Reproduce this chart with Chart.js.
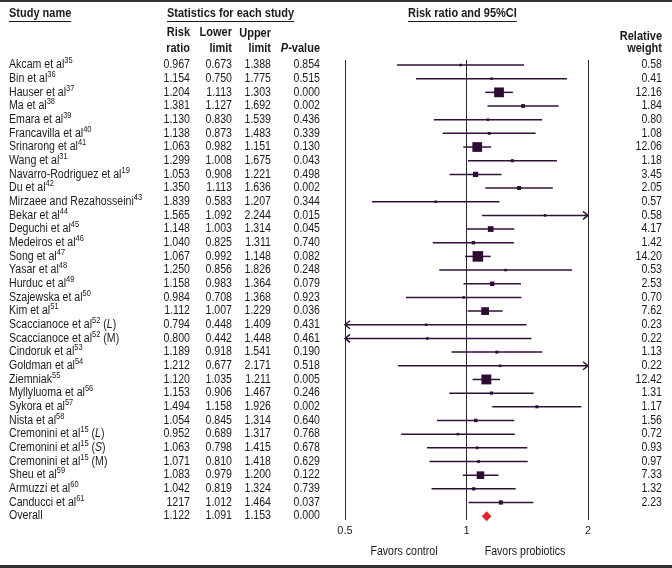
<!DOCTYPE html>
<html>
<head>
<meta charset="utf-8">
<script src="https://cdn.jsdelivr.net/npm/chart.js@4"></script>
<style>
  body { margin: 0; background: #fff; }
  canvas { display: block; }
</style>
</head>
<body>
<canvas id="forest" width="672" height="568"></canvas>
<script>
// study labels, reference numbers and subgroup tags
const studies = [
  'Akcam et al', 'Bin et al', 'Hauser et al', 'Ma et al', 'Emara et al',
  'Francavilla et al', 'Srinarong et al', 'Wang et al', 'Navarro-Rodriguez et al',
  'Du et al', 'Mirzaee and Rezahosseini', 'Bekar et al', 'Deguchi et al',
  'Medeiros et al', 'Song et al', 'Yasar et al', 'Hurduc et al', 'Szajewska et al',
  'Kim et al', 'Scaccianoce et al', 'Scaccianoce et al', 'Cindoruk et al',
  'Goldman et al', 'Ziemniak', 'Myllyluoma et al', 'Sykora et al', 'Nista et al',
  'Cremonini et al', 'Cremonini et al', 'Cremonini et al', 'Sheu et al',
  'Armuzzi et al', 'Canducci et al', 'Overall'
];
const refs = [
  '35', '36', '37', '38', '39', '40', '41', '31', '19', '42', '43', '44', '45',
  '46', '47', '48', '49', '50', '51', '52', '52', '53', '54', '55', '56', '57',
  '58', '15', '15', '15', '59', '60', '61', ''
];
const tags = {19: 'L', 20: 'M', 27: 'L', 28: 'S', 29: 'M'};

const riskRatio = [
  0.967, 1.154, 1.204, 1.381, 1.130, 1.138, 1.063, 1.299, 1.053, 1.350, 0.839,
  1.565, 1.148, 1.040, 1.067, 1.250, 1.158, 0.984, 1.112, 0.794, 0.800, 1.189,
  1.212, 1.120, 1.153, 1.494, 1.054, 0.952, 1.063, 1.071, 1.083, 1.042, 1.217,
  1.122
];
// the table prints two ratios differently from what is plotted
const printedRatio = {10: '1.839', 32: '1217'};
const lowerLimit = [
  0.673, 0.750, 1.113, 1.127, 0.830, 0.873, 0.982, 1.008, 0.908, 1.113, 0.583,
  1.092, 1.003, 0.825, 0.992, 0.856, 0.983, 0.708, 1.007, 0.448, 0.442, 0.918,
  0.677, 1.035, 0.906, 1.158, 0.845, 0.689, 0.798, 0.810, 0.979, 0.819, 1.012,
  1.091
];
const upperLimit = [
  1.388, 1.775, 1.303, 1.692, 1.539, 1.483, 1.151, 1.675, 1.221, 1.636, 1.207,
  2.244, 1.314, 1.311, 1.148, 1.826, 1.364, 1.368, 1.229, 1.409, 1.448, 1.541,
  2.171, 1.211, 1.467, 1.926, 1.314, 1.317, 1.415, 1.418, 1.200, 1.324, 1.464,
  1.153
];
const pValue = [
  0.854, 0.515, 0.000, 0.002, 0.436, 0.339, 0.130, 0.043, 0.498, 0.002, 0.344,
  0.015, 0.045, 0.740, 0.082, 0.248, 0.079, 0.923, 0.036, 0.431, 0.461, 0.190,
  0.518, 0.005, 0.246, 0.002, 0.640, 0.768, 0.678, 0.629, 0.122, 0.739, 0.037,
  0.000
];
const weight = [
  0.58, 0.41, 12.16, 1.84, 0.80, 1.08, 12.06, 1.18, 3.45, 2.05, 0.57, 0.58,
  4.17, 1.42, 14.20, 0.53, 2.53, 0.70, 7.62, 0.23, 0.22, 1.13, 0.22, 12.42,
  1.31, 1.17, 1.56, 0.72, 0.93, 0.97, 7.33, 1.32, 2.23
];
const xTicks = [0.5, 1, 2];

const FONT = '"Liberation Sans", Arial, sans-serif';
const INK = '#1a1a1a';
const STRETCH = 1.12; // glyphs in the original are a bit taller than wide
const nStudies = weight.length;
const overallIdx = studies.length - 1;

const points = weight.map((w, i) => ({x: riskRatio[i], y: i}));

function drawText(ctx, txt, x, y, align, bold, italic, size) {
  ctx.font = (italic ? 'italic ' : '') + (bold ? 'bold ' : '') + (size || 10.6) + 'px ' + FONT;
  ctx.textAlign = align;
  ctx.save();
  ctx.translate(x, y);
  ctx.scale(1, STRETCH);
  ctx.fillText(txt, 0, 0);
  ctx.restore();
  return ctx.measureText(txt).width;
}

function underline(ctx, x, y, w) {
  ctx.fillRect(x, y + 7, w, 1);
}

// whiskers, arrows and the overall diamond
const ciPlugin = {
  id: 'ci',
  beforeDatasetsDraw(chart) {
    const ctx = chart.ctx;
    const xs = chart.scales.x, ys = chart.scales.y;
    ctx.save();
    ctx.strokeStyle = '#33103a';
    ctx.lineWidth = 1.5;
    for (let i = 0; i < nStudies; i++) {
      const y = ys.getPixelForValue(i);
      const x1 = xs.getPixelForValue(Math.max(lowerLimit[i], xs.min));
      const x2 = xs.getPixelForValue(Math.min(upperLimit[i], xs.max));
      ctx.beginPath();
      ctx.moveTo(x1, y);
      ctx.lineTo(x2, y);
      if (lowerLimit[i] < xs.min) {
        ctx.moveTo(x1 + 5, y - 4); ctx.lineTo(x1, y); ctx.lineTo(x1 + 5, y + 4);
      }
      if (upperLimit[i] > xs.max) {
        ctx.moveTo(x2 - 5, y - 4); ctx.lineTo(x2, y); ctx.lineTo(x2 - 5, y + 4);
      }
      ctx.stroke();
    }
    const y = ys.getPixelForValue(overallIdx);
    const xl = xs.getPixelForValue(lowerLimit[overallIdx]);
    const xr = xs.getPixelForValue(upperLimit[overallIdx]);
    const xc = xs.getPixelForValue(riskRatio[overallIdx]);
    ctx.fillStyle = '#e3222b';
    ctx.beginPath();
    ctx.moveTo(xl, y); ctx.lineTo(xc, y - 5); ctx.lineTo(xr, y); ctx.lineTo(xc, y + 5);
    ctx.closePath();
    ctx.fill();
    ctx.restore();
  }
};

// table on the left, weights on the right, headers and frame
const tablePlugin = {
  id: 'table',
  afterDraw(chart) {
    const ctx = chart.ctx;
    const ys = chart.scales.y;
    ctx.save();
    ctx.textBaseline = 'middle';

    // frame bars
    ctx.fillStyle = '#333';
    ctx.fillRect(0, 0, 672, 2);
    ctx.fillRect(0, 565, 672, 3);
    ctx.fillStyle = INK;

    // headers
    let w = drawText(ctx, 'Study name', 9, 14, 'left', true, false, 11);
    underline(ctx, 9, 14, w);
    w = drawText(ctx, 'Statistics for each study', 167, 14, 'left', true, false, 11);
    underline(ctx, 167, 14, w);
    w = drawText(ctx, 'Risk ratio and 95%CI', 408, 14, 'left', true, false, 11);
    underline(ctx, 408, 14, w);

    const cols = [190, 232, 271, 320];
    drawText(ctx, 'Risk', cols[0], 33, 'right', true, false, 11);
    drawText(ctx, 'ratio', cols[0], 49, 'right', true, false, 11);
    drawText(ctx, 'Lower', cols[1], 33, 'right', true, false, 11);
    drawText(ctx, 'limit', cols[1], 49, 'right', true, false, 11);
    drawText(ctx, 'Upper', cols[2], 34, 'right', true, false, 11);
    drawText(ctx, 'limit', cols[2], 49, 'right', true, false, 11);
    const vw = drawText(ctx, '-value', cols[3], 49, 'right', true, false, 11);
    drawText(ctx, 'P', cols[3] - vw, 49, 'right', true, true, 11);
    drawText(ctx, 'Relative', 662, 37, 'right', true, false, 11);
    drawText(ctx, 'weight', 662, 49, 'right', true, false, 11);

    // rows
    studies.forEach((name, i) => {
      const y = ys.getPixelForValue(i);
      let x = 9;
      x += drawText(ctx, name, x, y, 'left');
      if (refs[i]) {
        x += drawText(ctx, refs[i], x, y - 4, 'left', false, false, 7.5);
      }
      if (tags[i]) {
        x += drawText(ctx, ' (', x, y, 'left');
        x += drawText(ctx, tags[i], x, y, 'left', false, tags[i] !== 'M');
        drawText(ctx, ')', x, y, 'left');
      }
      const rr = printedRatio[i] || riskRatio[i].toFixed(3);
      drawText(ctx, rr, cols[0], y, 'right');
      drawText(ctx, lowerLimit[i].toFixed(3), cols[1], y, 'right');
      drawText(ctx, upperLimit[i].toFixed(3), cols[2], y, 'right');
      drawText(ctx, pValue[i].toFixed(3), cols[3], y, 'right');
      if (i < nStudies) {
        drawText(ctx, weight[i].toFixed(2), 662, y, 'right');
      }
    });

    drawText(ctx, 'Favors control', 404, 552, 'center');
    drawText(ctx, 'Favors probiotics', 525, 552, 'center');
    ctx.restore();
  }
};

const config = {
  type: 'scatter',
  data: {
    datasets: [{
      data: points,
      pointStyle: 'rect',
      backgroundColor: '#2c0c33',
      borderWidth: 0,
      pointRadius: (c) => Math.max(2.5, 2.8 * Math.sqrt(weight[c.dataIndex])) / (2 * Math.SQRT1_2),
    }]
  },
  options: {
    responsive: false,
    animation: false,
    events: [],
    layout: { padding: { left: 345, right: 84, top: 60, bottom: 20 } },
    plugins: { legend: { display: false }, tooltip: { enabled: false } },
    scales: {
      x: {
        type: 'logarithmic',
        min: 0.5,
        max: 2,
        afterBuildTicks: (s) => { s.ticks = xTicks.map(v => ({value: v})); },
        afterFit: (s) => { s.height = 28; },
        ticks: {
          callback: (v) => String(v),
          color: INK,
          padding: 4,
          maxRotation: 0,
          font: { family: FONT, size: 11 }
        },
        grid: { color: '#2b2b2b', lineWidth: 1, drawTicks: false },
        border: { display: false }
      },
      y: {
        type: 'linear',
        reverse: true,
        min: -0.366,
        max: 33.28,
        display: false
      }
    }
  },
  plugins: [ciPlugin, tablePlugin]
};

const forest = new Chart(document.getElementById('forest'), config);
</script>
</body>
</html>
